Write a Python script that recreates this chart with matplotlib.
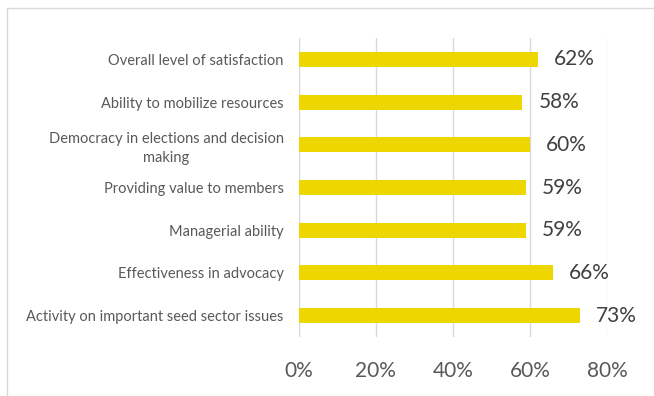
import matplotlib
matplotlib.use("Agg")
from matplotlib import pyplot as plt
from matplotlib.patches import Rectangle
from matplotlib.ticker import PercentFormatter

categories = [
    "Overall level of satisfaction",
    "Ability to mobilize resources",
    "Democracy in elections and decision\nmaking",
    "Providing value to members",
    "Managerial ability",
    "Effectiveness in advocacy",
    "Activity on important seed sector issues",
]
values = [0.62, 0.58, 0.60, 0.59, 0.59, 0.66, 0.73]
xticks = [0.0, 0.2, 0.4, 0.6, 0.8]

plt.rcParams['font.family'] = ['Lato', 'DejaVu Sans']
text_color = '#595959'

fig = plt.figure(figsize=(6.54, 3.96), dpi=100)
ax = fig.add_axes([0.457, 0.149, 0.471, 0.755])

pos = list(range(len(categories)))
ax.barh(pos, values, height=0.35, color='#EED600', zorder=3)
ax.set_yticks(pos)
ax.set_yticklabels(categories, fontsize=10.5, color=text_color)
for lab in ax.get_yticklabels():
    lab.set_horizontalalignment('right')
    lab.set_multialignment('center')
    lab.set_linespacing(1.45)
ax.set_ylim(len(categories) - 0.5, -0.5)

for p, v in zip(pos, values):
    ax.text(v + 0.042, p, f"{round(v * 100)}%", va='center', ha='left',
            fontsize=15, color='#404040')

ax.set_xlim(0, 0.8)
ax.set_xticks(xticks)
ax.xaxis.set_major_formatter(PercentFormatter(1.0, decimals=0))
ax.tick_params(axis='x', length=0, pad=17, labelsize=15, labelcolor=text_color)
ax.tick_params(axis='y', length=0, pad=11)
ax.grid(axis='x', color='#D9D9D9', linewidth=1, zorder=0)
for s in ax.spines.values():
    s.set_visible(False)

# light frame around the chart area
fig.patches.append(Rectangle((7 / 654, -0.05), 1.1, 1 - 8 / 396 + 0.05,
                             transform=fig.transFigure, fill=False,
                             edgecolor='#D9D9D9', linewidth=1))

fig.savefig("out.png", dpi=100)
